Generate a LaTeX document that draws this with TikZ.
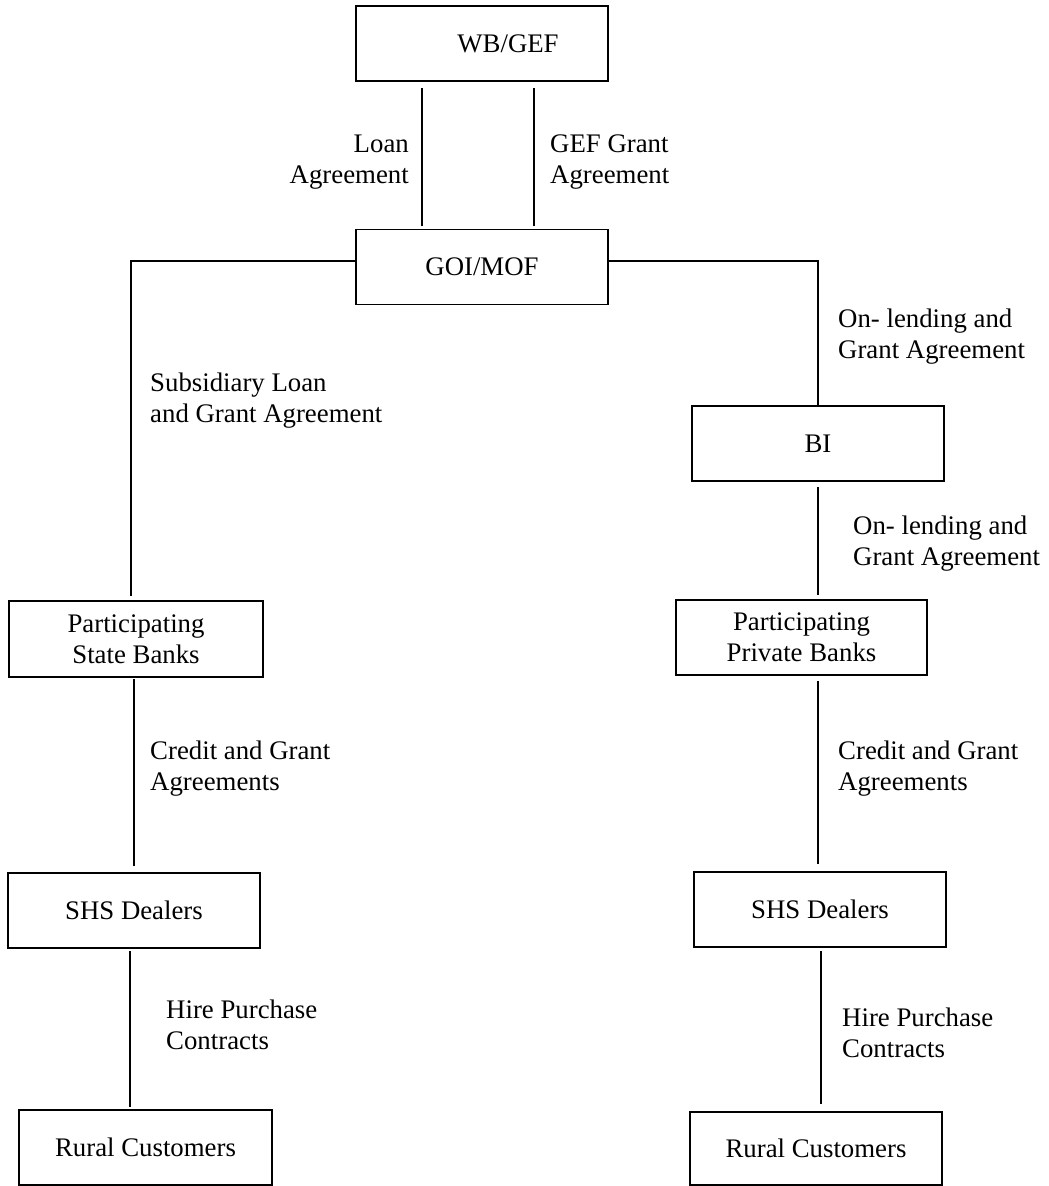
\documentclass[tikz,border=0pt]{standalone}
\usepackage{fontspec}
\setmainfont{Liberation Serif}
\begin{document}
\begin{tikzpicture}[x=1pt,y=-1pt,
  box/.style={draw,line width=1.5pt,rectangle,inner sep=0pt,outer sep=0pt,
    minimum width=252pt,minimum height=75pt,align=center,
    font=\fontsize{26.8}{31}\selectfont},
  lbl/.style={inner sep=0pt,font=\fontsize{26.8}{31}\selectfont},
  conn/.style={line width=1.3pt}]
\useasboundingbox (0,0) rectangle (1049,1186);
% boxes
\node[box] (wb)  at (482,43.5) {\hspace*{52pt}WB/GEF};
\node[box] (goi) at (482,267) {GOI/MOF};
\node[box] (bi)  at (818,443.5) {BI};
\node[box,minimum width=251pt] (pb) at (801.5,637.5) {Participating\\Private Banks};
\node[box,minimum width=254pt,minimum height=76pt] (sbl) at (136,639) {Participating\\State Banks};
\node[box] (sdl) at (134,910.5) {SHS Dealers};
\node[box,minimum width=253pt] (rcl) at (145.5,1147.5) {Rural Customers};
\node[box] (sdr) at (820,909.5) {SHS Dealers};
\node[box,minimum height=73pt] (rcr) at (816,1148.5) {Rural Customers};
% corner coordinates
\coordinate (lc) at (131,261);
\coordinate (rc) at (818,261);
% connectors
\draw[conn,shorten <=7pt,shorten >=4pt] ([xshift=-60pt]wb.south) -- ([xshift=-60pt]wb.south |- goi.north);
\draw[conn,shorten <=7pt,shorten >=4pt] ([xshift=52pt]wb.south) -- ([xshift=52pt]wb.south |- goi.north);
\draw[conn,shorten >=5pt] (goi.west |- lc) -- (lc) -- (lc |- sbl.north);
\draw[conn] (goi.east |- rc) -- (rc) -- (bi.north);
\draw[conn,shorten <=6pt,shorten >=5pt] (bi.south) -- (bi.south |- pb.north);
\draw[conn,shorten <=2pt,shorten >=7pt] (sdl.north |- sbl.south) -- (sdl.north);
\draw[conn,shorten <=3pt,shorten >=3pt] ([xshift=-4pt]sdl.south) -- ([xshift=-4pt]sdl.south |- rcl.north);
\draw[conn,shorten <=6pt,shorten >=8pt] (pb.south -| 818,0) -- (sdr.north -| 818,0);
\draw[conn,shorten <=4pt,shorten >=8pt] ([xshift=1pt]sdr.south) -- ([xshift=1pt]sdr.south |- rcr.north);
% labels
\node[lbl,anchor=east,align=right] (l1) at (409,162) {Loan\\Agreement};
\node[lbl,anchor=west,align=left] (l2) at (550,162) {GEF Grant\\Agreement};
\node[lbl,anchor=west,align=left] (l3) at (150,401) {Subsidiary Loan\\and Grant Agreement};
\node[lbl,anchor=west,align=left] (l4) at (838,337) {On- lending and\\Grant Agreement};
\node[lbl,anchor=west,align=left] (l5) at (853,544) {On- lending and\\Grant Agreement};
\node[lbl,anchor=west,align=left] (l6) at (150,769) {Credit and Grant\\Agreements};
\node[lbl,anchor=west,align=left] (l7) at (838,769) {Credit and Grant\\Agreements};
\node[lbl,anchor=west,align=left] (l8) at (166,1025) {Hire Purchase\\Contracts};
\node[lbl,anchor=west,align=left] (l9) at (842,1033) {Hire Purchase\\Contracts};
\end{tikzpicture}
\end{document}
